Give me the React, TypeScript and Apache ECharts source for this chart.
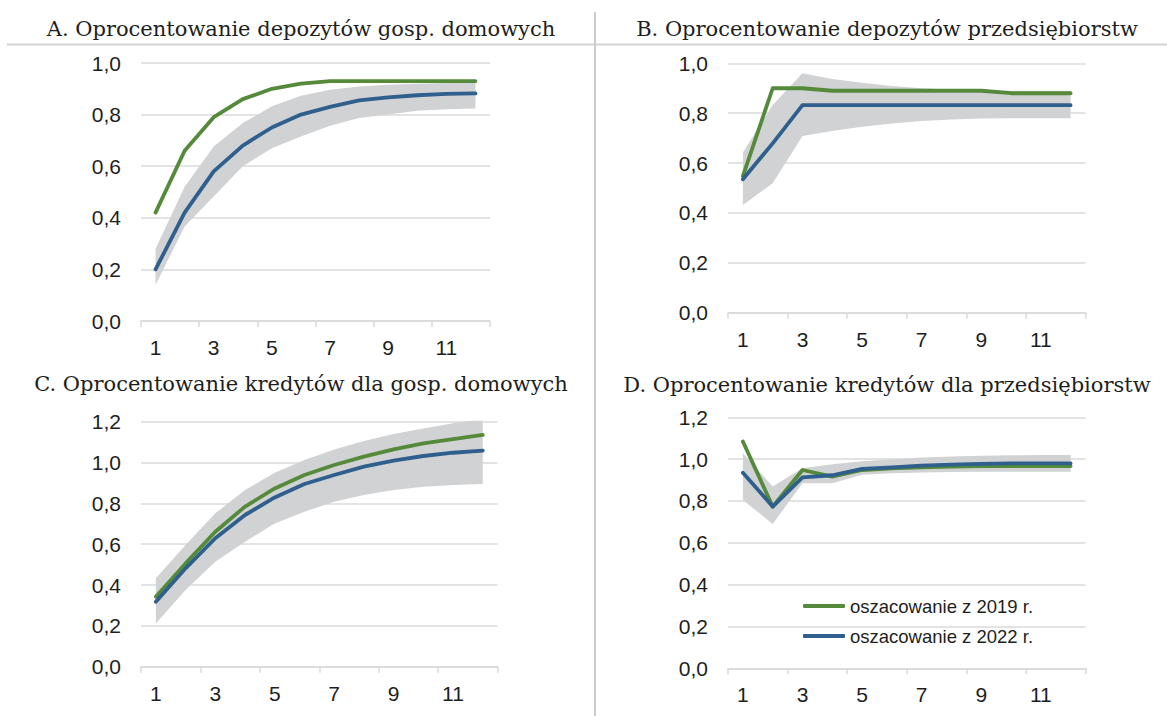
import React, { useEffect, useRef } from "react";
import * as echarts from "echarts";

const categories = ["1", "2", "3", "4", "5", "6", "7", "8", "9", "10", "11", "12"];

const titles = [
  "A. Oprocentowanie depozytów gosp. domowych",
  "B. Oprocentowanie depozytów przedsiębiorstw",
  "C. Oprocentowanie kredytów dla gosp. domowych",
  "D. Oprocentowanie kredytów dla przedsiębiorstw",
];

const name2019 = "oszacowanie z 2019 r.";
const name2022 = "oszacowanie z 2022 r.";

// Panel A
const est2019A = [0.42, 0.66, 0.79, 0.86, 0.9, 0.92, 0.93, 0.93, 0.93, 0.93, 0.93, 0.93];
const est2022A = [0.2, 0.42, 0.58, 0.68, 0.75, 0.8, 0.83, 0.855, 0.867, 0.875, 0.88, 0.882];
const upperA = [0.28, 0.52, 0.676, 0.767, 0.832, 0.873, 0.896, 0.909, 0.916, 0.92, 0.922, 0.922];
const lowerA = [0.14, 0.366, 0.483, 0.6, 0.67, 0.715, 0.757, 0.787, 0.8, 0.815, 0.821, 0.824];

// Panel B
const est2019B = [0.548, 0.9, 0.9, 0.89, 0.89, 0.89, 0.89, 0.89, 0.89, 0.88, 0.88, 0.88];
const est2022B = [0.535, 0.679, 0.832, 0.832, 0.832, 0.832, 0.832, 0.832, 0.832, 0.832, 0.832, 0.832];
const upperB = [0.642, 0.833, 0.96, 0.937, 0.922, 0.909, 0.9, 0.895, 0.893, 0.89, 0.89, 0.89];
const lowerB = [0.432, 0.519, 0.709, 0.729, 0.746, 0.759, 0.769, 0.775, 0.779, 0.78, 0.78, 0.78];

// Panel C
const est2019C = [0.343, 0.506, 0.661, 0.784, 0.873, 0.939, 0.988, 1.029, 1.064, 1.094, 1.115, 1.135];
const est2022C = [0.318, 0.482, 0.629, 0.743, 0.829, 0.895, 0.939, 0.98, 1.009, 1.032, 1.048, 1.058];
const upperC = [0.433, 0.596, 0.751, 0.865, 0.95, 1.012, 1.064, 1.105, 1.14, 1.167, 1.192, 1.213];
const lowerC = [0.212, 0.376, 0.514, 0.612, 0.702, 0.759, 0.808, 0.841, 0.865, 0.882, 0.89, 0.895];

// Panel D
const est2019D = [1.084, 0.773, 0.948, 0.916, 0.948, 0.956, 0.961, 0.964, 0.967, 0.967, 0.967, 0.967];
const est2022D = [0.935, 0.773, 0.913, 0.923, 0.953, 0.961, 0.969, 0.974, 0.977, 0.98, 0.98, 0.98];
const upperD = [1.029, 0.869, 0.957, 0.975, 0.99, 1.0, 1.008, 1.012, 1.016, 1.018, 1.02, 1.02];
const lowerD = [0.805, 0.69, 0.885, 0.885, 0.925, 0.932, 0.936, 0.938, 0.94, 0.94, 0.94, 0.94];

const yMax = [1.0, 1.0, 1.2, 1.2];

const GREEN = "#558A3B";
const BLUE = "#2E5F8D";
const BAND = "#D1D2D4";
const GRID = "#DADADA";
const TEXT = "#1E1E1E";
const SANS = "'Liberation Sans', Arimo, Roboto, sans-serif";
const SERIF = "'DejaVu Serif', 'Liberation Serif', serif";

const panels = [
  { g: est2019A, b: est2022A, up: upperA, lo: lowerA },
  { g: est2019B, b: est2022B, up: upperB, lo: lowerB },
  { g: est2019C, b: est2022C, up: upperC, lo: lowerC },
  { g: est2019D, b: est2022D, up: upperD, lo: lowerD },
];

const grids = [
  { left: 141, top: 63, width: 349, height: 258 },
  { left: 728, top: 63.3, width: 357.5, height: 249.4 },
  { left: 141, top: 421.7, width: 356.6, height: 245 },
  { left: 728, top: 417.3, width: 357.5, height: 251 },
];

const titlePos = [
  { x: 301, y: 29 },
  { x: 887, y: 29 },
  { x: 301, y: 384 },
  { x: 887, y: 385 },
];

export default function App() {
  const ref = useRef<HTMLDivElement>(null);
  useEffect(() => {
    if (!ref.current) return;
    const chart = echarts.init(ref.current, null, { renderer: "svg" });

    const series: any[] = [];
    panels.forEach((p, i) => {
      series.push({
        type: "line",
        name: "lo" + i,
        xAxisIndex: i,
        yAxisIndex: i,
        stack: "band" + i,
        data: p.lo,
        symbol: "none",
        lineStyle: { opacity: 0 },
        silent: true,
        z: 1,
      });
      series.push({
        type: "line",
        name: "band" + i,
        xAxisIndex: i,
        yAxisIndex: i,
        stack: "band" + i,
        data: p.up.map((v, k) => +(v - p.lo[k]).toFixed(4)),
        symbol: "none",
        lineStyle: { opacity: 0 },
        areaStyle: { color: BAND, opacity: 1 },
        silent: true,
        z: 1,
      });
      series.push({
        type: "line",
        name: name2019,
        xAxisIndex: i,
        yAxisIndex: i,
        data: p.g,
        symbol: "none",
        lineStyle: { color: GREEN, width: 3.8, cap: "round", join: "round" },
        itemStyle: { color: GREEN },
        z: 3,
      });
      series.push({
        type: "line",
        name: name2022,
        xAxisIndex: i,
        yAxisIndex: i,
        data: p.b,
        symbol: "none",
        lineStyle: { color: BLUE, width: 3.8, cap: "round", join: "round" },
        itemStyle: { color: BLUE },
        z: 4,
      });
    });

    const option: any = {
      animation: false,
      backgroundColor: "#ffffff",
      grid: grids.map((g) => ({ ...g, containLabel: false })),
      xAxis: grids.map((_, i) => ({
        type: "category",
        gridIndex: i,
        data: categories,
        boundaryGap: true,
        axisLine: { show: true, lineStyle: { color: GRID, width: 1.5 } },
        axisTick: { show: true, interval: 1, length: 6, lineStyle: { color: GRID, width: 1.5 } },
        axisLabel: {
          interval: 1,
          margin: 16,
          fontSize: 21,
          fontFamily: SANS,
          color: TEXT,
        },
        splitLine: { show: false },
      })),
      yAxis: grids.map((_, i) => ({
        type: "value",
        gridIndex: i,
        min: 0,
        max: yMax[i],
        interval: 0.2,
        axisLine: { show: false },
        axisTick: { show: false },
        axisLabel: {
          margin: 20,
          fontSize: 21,
          fontFamily: SANS,
          color: TEXT,
          formatter: (v: number) => v.toFixed(1).replace(".", ","),
        },
        splitLine: { show: true, lineStyle: { color: GRID, width: 1.5 } },
      })),
      legend: {
        data: [name2019, name2022],
        orient: "vertical",
        left: 803,
        top: 596,
        padding: 0,
        itemWidth: 42,
        itemHeight: 4,
        itemGap: 10,
        icon: "roundRect",
        textStyle: { fontSize: 18.5, fontFamily: SANS, color: TEXT, lineHeight: 20 },
        selectedMode: false,
      },
      graphic: [
        {
          type: "line",
          shape: { x1: 7, y1: 44.5, x2: 1167, y2: 44.5 },
          style: { stroke: "#D2D2D2", lineWidth: 2 },
          silent: true,
        },
        {
          type: "line",
          shape: { x1: 595, y1: 12, x2: 595, y2: 716 },
          style: { stroke: "#CCCCCC", lineWidth: 2 },
          silent: true,
        },
        ...titles.map((t, i) => ({
          type: "text",
          x: titlePos[i].x,
          y: titlePos[i].y,
          style: {
            text: t,
            font: `21px ${SERIF}`,
            fill: TEXT,
            textAlign: "center",
            textVerticalAlign: "middle",
          },
          silent: true,
        })),
      ],
      series,
    };
    chart.setOption(option);
    return () => chart.dispose();
  }, []);

  return (
    <div
      ref={ref}
      style={{ position: "fixed", left: 0, top: 0, width: 1167, height: 716, background: "#fff" }}
    />
  );
}
